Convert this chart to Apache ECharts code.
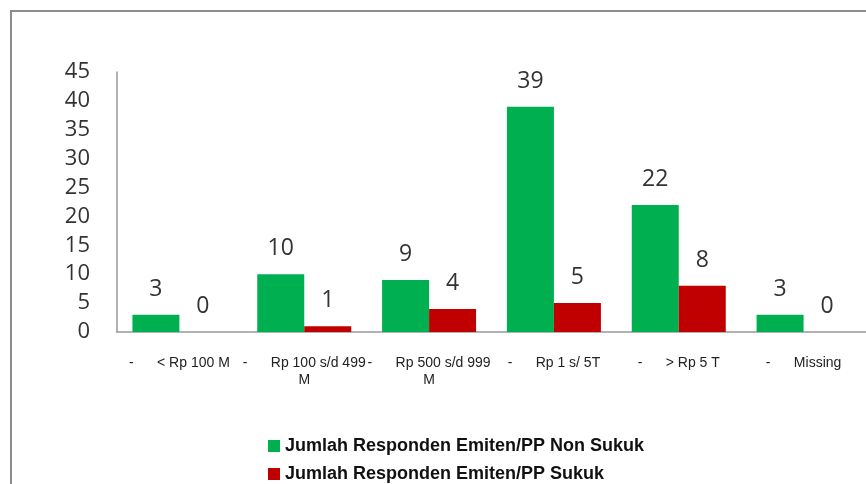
<!DOCTYPE html>
<html>
<head>
<meta charset="utf-8">
<script src="https://cdn.jsdelivr.net/npm/echarts@6/dist/echarts.min.js"></script>
<style>
  html, body { margin: 0; padding: 0; background: #fff; }
  #chart { width: 866px; height: 484px; }
</style>
</head>
<body>
<div id="chart"></div>
<script>
// data
const categories = [
  "-      < Rp 100 M",
  "-      Rp 100 s/d 499\nM",
  "-      Rp 500 s/d 999\nM",
  "-      Rp 1 s/ 5T",
  "-      > Rp 5 T",
  "-      Missing"
];
const nonSukuk = [3, 10, 9, 39, 22, 3];
const sukuk = [0, 1, 4, 5, 8, 0];
const seriesNames = [
  "Jumlah Responden Emiten/PP Non Sukuk",
  "Jumlah Responden Emiten/PP Sukuk"
];

const chart = echarts.init(document.getElementById("chart"));

const valueLabel = {
  show: true,
  position: "top",
  distance: 14,
  fontFamily: "Open Sans",
  fontSize: 23,
  color: "#333"
};

const legendText = {
  fontFamily: "Liberation Sans",
  fontSize: 18,
  fontWeight: "bold",
  color: "#111"
};

chart.setOption({
  animation: false,
  graphic: [
    {
      // outer frame (top and left edges)
      type: "polyline",
      shape: { points: [[11, 484], [11, 11], [866, 11]] },
      style: { stroke: "#8c8c8c", lineWidth: 2, fill: null }
    }
  ],
  // one legend per line, stacked
  legend: [
    {
      left: 263,
      top: 432,
      itemWidth: 12,
      itemHeight: 12,
      itemGap: 6,
      icon: "rect",
      textStyle: legendText,
      data: [seriesNames[0]]
    },
    {
      left: 263,
      top: 460,
      itemWidth: 12,
      itemHeight: 12,
      icon: "rect",
      textStyle: legendText,
      data: [seriesNames[1]]
    }
  ],
  grid: {
    left: 117,
    top: 72,
    width: 762,
    height: 260
  },
  xAxis: {
    type: "category",
    data: categories,
    axisLine: { lineStyle: { color: "#999", width: 1.5 } },
    axisTick: { show: false },
    axisLabel: {
      interval: 0,
      margin: 23,
      fontFamily: "Liberation Sans",
      fontSize: 14,
      lineHeight: 17,
      color: "#222"
    }
  },
  yAxis: {
    type: "value",
    min: 0,
    max: 45,
    interval: 5,
    splitLine: { show: false },
    axisLine: { show: true, lineStyle: { color: "#999", width: 1.5 } },
    axisTick: { show: false },
    axisLabel: {
      margin: 27,
      fontFamily: "Open Sans",
      fontSize: 22,
      color: "#333"
    }
  },
  series: [
    {
      name: seriesNames[0],
      type: "bar",
      data: nonSukuk,
      barWidth: 47,
      barGap: "0%",
      itemStyle: { color: "#00B050" },
      label: valueLabel
    },
    {
      name: seriesNames[1],
      type: "bar",
      data: sukuk,
      barWidth: 47,
      barGap: "0%",
      itemStyle: { color: "#C00000" },
      label: valueLabel
    }
  ]
});
</script>
</body>
</html>
